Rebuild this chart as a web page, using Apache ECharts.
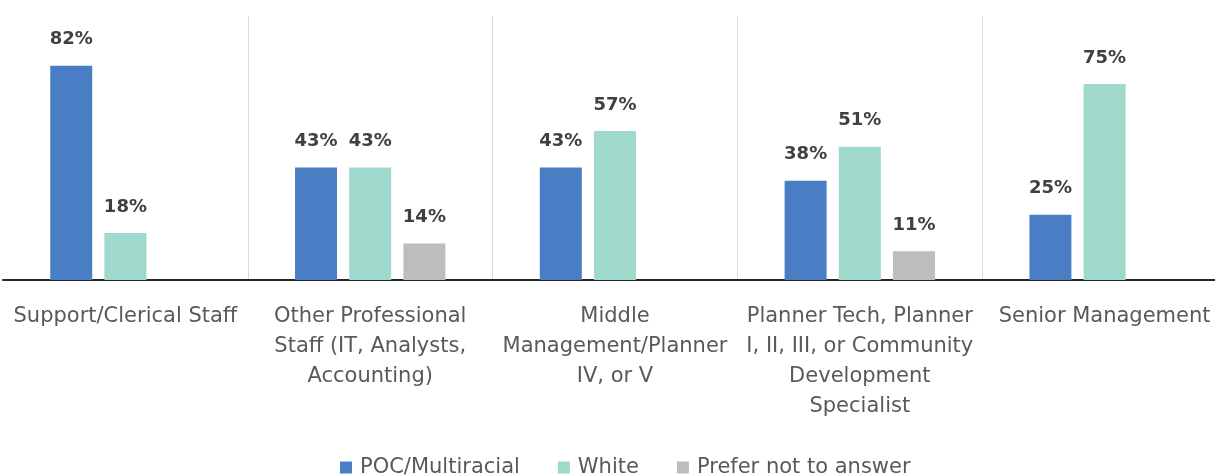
<!DOCTYPE html>
<html>
<head>
<meta charset="utf-8">
<script src="https://cdn.jsdelivr.net/npm/echarts@6/dist/echarts.min.js"></script>
<style>
  html, body { margin: 0; padding: 0; background: #fff; }
  #chart { width: 1215px; height: 475px; }
</style>
</head>
<body>
<div id="chart"></div>
<script>
  var categories = [
    'Support/Clerical Staff',
    'Other Professional\nStaff (IT, Analysts,\nAccounting)',
    'Middle\nManagement/Planner\nIV, or V',
    'Planner Tech, Planner\nI, II, III, or Community\nDevelopment\nSpecialist',
    'Senior Management'
  ];
  var pocData = [82, 43, 43, 38, 25];
  var whiteData = [18, 43, 57, 51, 75];
  var preferData = [null, 14, null, 11, null];

  var font = '"DejaVu Sans", sans-serif';

  function barSeries(name, data, color) {
    return {
      name: name,
      type: 'bar',
      data: data,
      barWidth: 42,
      barGap: '29%',
      itemStyle: { color: color },
      label: {
        show: true,
        position: 'top',
        distance: 17,
        formatter: '{c}%',
        fontFamily: font,
        fontSize: 18,
        fontWeight: 'bold',
        color: '#404040'
      }
    };
  }

  var option = {
    animation: false,
    grid: { left: 3, width: 1224, top: 16, bottom: 195, outerBoundsMode: 'none', containLabel: false },
    legend: {
      top: 452,
      left: 335,
      itemWidth: 12,
      itemHeight: 12,
      itemGap: 38,
      icon: 'rect',
      textStyle: { fontFamily: font, fontSize: 21, color: '#595959', padding: [0, 0, 0, 3] },
      data: ['POC/Multiracial', 'White', 'Prefer not to answer']
    },
    xAxis: {
      type: 'category',
      data: categories,
      axisTick: { show: false },
      axisLine: { lineStyle: { color: '#262626', width: 2 } },
      splitLine: {
        show: true,
        interval: 0,
        lineStyle: { color: ['#ffffff', '#d9d9d9', '#d9d9d9', '#d9d9d9', '#d9d9d9', '#ffffff'], width: 1 }
      },
      axisLabel: {
        interval: 0,
        margin: 22,
        fontFamily: font,
        fontSize: 21,
        lineHeight: 30,
        color: '#595959'
      }
    },
    yAxis: {
      type: 'value',
      min: 0,
      max: 101,
      show: false,
      splitLine: { show: false }
    },
    series: [
      barSeries('POC/Multiracial', pocData, '#4a7ec4'),
      barSeries('White', whiteData, '#9fd9cb'),
      barSeries('Prefer not to answer', preferData, '#bdbdbd')
    ]
  };

  var chart = echarts.init(document.getElementById('chart'));
  chart.setOption(option);
</script>
</body>
</html>
